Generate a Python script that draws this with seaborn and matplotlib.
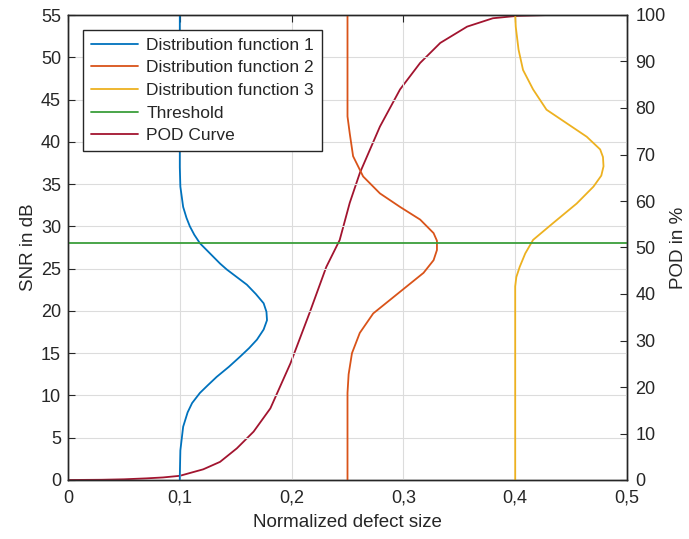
import matplotlib
matplotlib.use("Agg")
import matplotlib.pyplot as plt
import seaborn as sns
import pandas as pd

# ---- data ----
d1_snr = [0, 0.5, 3.5, 6.3, 8.0, 9.1, 10.3, 11.2, 12.2, 13.4, 14.6, 15.6, 16.6, 17.8, 18.9, 19.9,
          20.9, 22.0, 23.1, 24.9, 25.6, 26.4, 28.0, 29.0, 30.0, 31.0, 32.3, 34.7, 37.0, 55]
d1_x = [0.1, 0.1, 0.1005, 0.103, 0.107, 0.111, 0.118, 0.125, 0.133, 0.144, 0.154, 0.162, 0.169, 0.175, 0.178, 0.1775,
        0.175, 0.168, 0.160, 0.142, 0.136, 0.130, 0.118, 0.113, 0.109, 0.106, 0.103, 0.1005, 0.1, 0.1]

d2_snr = [0, 10.3, 12.5, 15.0, 17.4, 19.7, 21.3, 22.9, 24.5, 26.0, 27.2, 28.3, 29.2, 30.8, 32.3,
          33.9, 35.9, 38.3, 41.0, 43.0, 55]
d2_x = [0.25, 0.25, 0.251, 0.254, 0.261, 0.273, 0.288, 0.303, 0.318, 0.327, 0.330, 0.330, 0.327, 0.315, 0.297,
        0.279, 0.264, 0.255, 0.252, 0.250, 0.25]

d3_snr = [0, 22.9, 24.0, 25.2, 26.8, 28.4, 30.4, 32.7, 34.7, 36.0, 37.1, 38.2, 39.1, 40.6, 42.2,
          43.8, 46.2, 48.5, 50.9, 53.6, 55]
d3_x = [0.4, 0.4, 0.401, 0.404, 0.409, 0.416, 0.434, 0.455, 0.470, 0.477, 0.479, 0.4785, 0.476, 0.464, 0.446,
        0.428, 0.416, 0.407, 0.403, 0.4005, 0.4]

threshold_x = [0, 0.5]
threshold_snr = [28, 28]

pod_x = [0, 0.03, 0.05, 0.07, 0.085, 0.1, 0.121, 0.136, 0.151, 0.166, 0.181, 0.199, 0.216, 0.231, 0.243,
         0.252, 0.261, 0.279, 0.297, 0.315, 0.333, 0.357, 0.380, 0.401, 0.43, 0.5]
pod_pct = [0, 0.05, 0.15, 0.35, 0.55, 0.9, 2.3, 3.9, 6.8, 10.4, 15.4, 25.1, 35.9, 45.8, 51.6,
           59.6, 66, 76, 84, 89.7, 94, 97.5, 99.3, 99.8, 100, 100]

x_ticks = [0, 0.1, 0.2, 0.3, 0.4, 0.5]
x_ticklabels = ["0", "0,1", "0,2", "0,3", "0,4", "0,5"]
snr_ticks = list(range(0, 56, 5))
pod_ticks = list(range(0, 101, 10))

labels = ["Distribution function 1", "Distribution function 2", "Distribution function 3",
          "Threshold", "POD Curve"]
colors = ["#0072BD", "#D95319", "#EDB120", "#3a9e3a", "#A2142F"]

# ---- plot ----
sns.set_style("white")
plt.rcParams["font.family"] = ["Liberation Sans", "DejaVu Sans"]
plt.rcParams["axes.unicode_minus"] = False
txt = "#262626"
tick_fs = 13
label_fs = 13.5
legend_fs = 12.5

fig = plt.figure(figsize=(6.89, 5.39), dpi=100)
ax = fig.add_axes([68 / 689, 59 / 539, 559 / 689, 465 / 539])
ax2 = ax.twinx()

lw = 1.3
for xs, ys, c, lab in [(d1_x, d1_snr, colors[0], labels[0]),
                       (d2_x, d2_snr, colors[1], labels[1]),
                       (d3_x, d3_snr, colors[2], labels[2])]:
    sns.lineplot(x=xs, y=ys, sort=False, estimator=None, color=c, lw=lw, ax=ax, label=lab)
sns.lineplot(x=threshold_x, y=threshold_snr, sort=False, estimator=None, color=colors[3], lw=lw,
             ax=ax, label=labels[3])
sns.lineplot(x=pod_x, y=pod_pct, sort=False, estimator=None, color=colors[4], lw=lw, ax=ax2,
             label=labels[4])

ax.set_xlim(0, 0.5)
ax.set_ylim(0, 55)
ax2.set_ylim(0, 100)
ax.set_xticks(x_ticks)
ax.set_xticklabels(x_ticklabels)
ax.set_yticks(snr_ticks)
ax2.set_yticks(pod_ticks)

ax.grid(True, color="#dcdcdc", lw=0.8)
ax.set_axisbelow(True)
for a in (ax, ax2):
    for s in a.spines.values():
        s.set_color(txt)
        s.set_linewidth(1.0)
ax.tick_params(axis="both", direction="in", length=5, width=0.8, colors=txt, labelsize=tick_fs,
               top=True, labelcolor=txt)
ax.tick_params(axis="x", pad=7)
ax.tick_params(axis="y", pad=5)
ax2.tick_params(axis="y", direction="in", length=5, width=0.8, colors=txt, labelsize=tick_fs, pad=6)

ax.set_xlabel("Normalized defect size", fontsize=label_fs, color=txt, labelpad=5)
ax.set_ylabel("SNR in dB", fontsize=label_fs, color=txt, labelpad=3)
ax2.set_ylabel("POD in %", fontsize=label_fs, color=txt, rotation=90, labelpad=3)

h1, l1 = ax.get_legend_handles_labels()
h2, l2 = ax2.get_legend_handles_labels()
if ax2.get_legend() is not None:
    ax2.get_legend().remove()
leg = ax.legend(h1 + h2, l1 + l2, loc="upper left", bbox_to_anchor=(0.027, 0.968), borderaxespad=0,
                fontsize=legend_fs, frameon=True, fancybox=False, edgecolor=txt, framealpha=1,
                handlelength=2.7, handletextpad=0.5, labelspacing=0.43, borderpad=0.45)
leg.get_frame().set_linewidth(1.0)
for t in leg.get_texts():
    t.set_color(txt)
leg.set_zorder(10)
ax.set_zorder(ax2.get_zorder() + 1)
ax.patch.set_visible(False)

fig.savefig("out.png", dpi=100)
